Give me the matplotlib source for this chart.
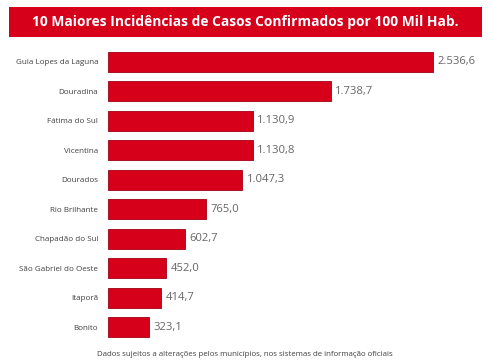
import matplotlib.pyplot as plt
from matplotlib.patches import Rectangle

municipios = ['Guia Lopes da Laguna', 'Douradina', 'Fátima do Sul', 'Vicentina', 'Dourados',
              'Rio Brilhante', 'Chapadão do Sul', 'São Gabriel do Oeste', 'Itaporã', 'Bonito']
incidencia = [2536.6, 1738.7, 1130.9, 1130.8, 1047.3, 765.0, 602.7, 452.0, 414.7, 323.1]
rotulos = ['2.536,6', '1.738,7', '1.130,9', '1.130,8', '1.047,3', '765,0', '602,7', '452,0', '414,7', '323,1']

titulo = '10 Maiores Incidências de Casos Confirmados por 100 Mil Hab.'
rodape = 'Dados sujeitos a alterações pelos municípios, nos sistemas de informação oficiais'

plt.rcParams['font.family'] = ['Open Sans', 'DejaVu Sans']

fig = plt.figure(figsize=(4.89, 3.64), dpi=100)
W, H = 489, 364

# faixa vermelha do titulo
fig.patches.append(Rectangle((9 / W, 1 - 37 / H), 473 / W, 30 / H, transform=fig.transFigure,
                             facecolor='#D7001B', edgecolor='none'))
fig.text(245.5 / W, 1 - 22 / H, titulo, ha='center', va='center', color='white',
         fontsize=9.9, fontweight='bold')

ax = fig.add_axes([108 / W, 1 - 342 / H, 381 / W, 295 / H])
y = list(range(len(municipios)))
ax.barh(y, incidencia, height=0.68, color='#D7001B', edgecolor='#9E0012', linewidth=0.6)
for yi, v, r in zip(y, incidencia, rotulos):
    ax.text(v + 35, yi, r, va='center', ha='left', fontsize=8.1, color='#666666')

ax.set_ylim(len(municipios) - 0.5, -0.5)
ax.set_xlim(0, 2974)
ax.set_yticks(y)
ax.set_yticklabels(municipios, fontsize=5.8, color='#404040')
ax.tick_params(axis='y', length=0, pad=7)
ax.set_xticks([])
for s in ax.spines.values():
    s.set_visible(False)

fig.text(245 / W, 1 - 355 / H, rodape, ha='center', va='center', fontsize=5.7, color='#404040')

fig.savefig('out.png', dpi=100)
